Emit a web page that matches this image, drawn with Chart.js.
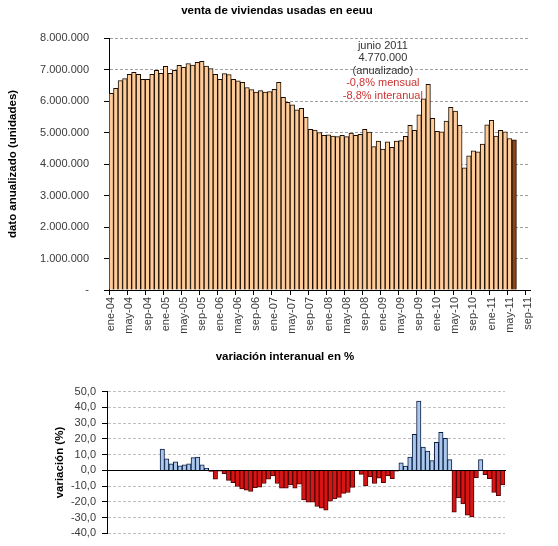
<!DOCTYPE html>
<html>
<head>
<meta charset="utf-8">
<script src="https://cdn.jsdelivr.net/npm/chart.js@4.4.0/dist/chart.umd.min.js"></script>
<style>
body{margin:0;background:#fff;}
#arriba{position:absolute;left:0;top:0;width:558px;height:345px;}
#abajo{position:absolute;left:0;top:346px;width:558px;height:200px;}
</style>
</head>
<body>
<div id="arriba"><canvas id="ventas"></canvas></div>
<div id="abajo"><canvas id="variacion"></canvas></div>
<script>
const MESES = ['ene','feb','mar','abr','may','jun','jul','ago','sep','oct','nov','dic'];
const ANIOS = ['04','05','06','07','08','09','10','11'];

// eje de fechas ene-04 ... sep-11 (el dato llega a jun-11)
var CATEGORIAS = [];
ANIOS.forEach(function(a){
    MESES.forEach(function(m){ CATEGORIAS.push(m + '-' + a); });
});
const EJE_VENTAS = CATEGORIAS.slice(0, 93);
const EJE_VARIACION = CATEGORIAS.slice(0, 90);

// ventas anualizadas (unidades), ene-04 a jun-11
const VENTAS = [
    6240000, 6400000, 6650000, 6710000, 6850000, 6910000, 6850000, 6690000, 6690000, 6850000, 6970000, 6880000,
    7100000, 6880000, 6970000, 7130000, 7070000, 7190000, 7140000, 7230000, 7260000, 7110000, 7030000, 6850000,
    6690000, 6870000, 6840000, 6690000, 6640000, 6590000, 6430000, 6360000, 6280000, 6330000, 6280000, 6300000,
    6370000, 6590000, 6120000, 5960000, 5880000, 5720000, 5770000, 5480000, 5100000, 5080000, 5000000, 4910000,
    4930000, 4890000, 4870000, 4910000, 4870000, 4980000, 4910000, 4940000, 5100000, 5010000, 4550000, 4730000,
    4470000, 4700000, 4530000, 4730000, 4740000, 4880000, 5230000, 5070000, 5560000, 6070000, 6530000, 5450000,
    5040000, 5020000, 5360000, 5800000, 5680000, 5230000, 3880000, 4260000, 4420000, 4390000, 4630000, 5240000,
    5390000, 4890000, 5070000, 5020000, 4810000, 4770000
];

// variacion interanual en %, desde ene-05
const INTERANUAL = [
    null, null, null, null, null, null, null, null, null, null, null, null,
    13.5, 7.3, 4.2, 5.4, 2.9, 3.5, 4.2, 8.1, 8.5, 3.5, 1.3, -0.6,
    -5.6, -0.4, -2.1, -6.3, -7.7, -10.2, -11.7, -12.5, -13.3, -11.0, -10.6, -8.3,
    -5.6, -3.5, -8.3, -11.3, -11.3, -9.2, -11.3, -8.8, -18.8, -20.2, -20.2, -22.9,
    -24.0, -25.2, -19.6, -18.1, -17.1, -14.6, -14.0, -10.8, 0.0, -2.5, -9.8, -4.0,
    -8.3, -5.0, -7.7, -3.5, -5.2, -0.4, 4.8, 2.7, 8.5, 22.9, 44.0, 14.8,
    12.3, 6.3, 17.9, 24.2, 20.4, 6.9, -26.5, -17.5, -21.3, -28.5, -29.6, -4.6,
    6.9, -2.7, -5.2, -14.0, -16.0, -9.2
];

const NOTA = ['junio 2011', '4.770.000', '(anualizado)', '-0,8% mensual', '-8,8% interanual'];
const NOTA_COLOR = ['#333333', '#333333', '#333333', '#cc3333', '#cc3333'];

const FUENTE = '"Liberation Sans", Arial, sans-serif';
Chart.defaults.font.family = FUENTE;
Chart.defaults.font.size = 11;
Chart.defaults.color = '#3a3a3a';

function puntos(v) {
    return String(v).replace(/\B(?=(\d{3})+(?!\d))/g, '.');
}

var coloresVentas = VENTAS.map(function(v, i){ return i === VENTAS.length - 1 ? '#8a4416' : '#ffcc99'; });

var ventasChart = new Chart(document.getElementById('ventas'), {
    type: 'bar',
    data: {
        labels: EJE_VENTAS,
        datasets: [{
            data: VENTAS,
            backgroundColor: coloresVentas,
            borderColor: '#1a0d00',
            borderWidth: 1,
            barPercentage: 1,
            categoryPercentage: 1
        }]
    },
    options: {
        responsive: true,
        maintainAspectRatio: false,
        animation: false,
        layout: { padding: { left: 0, right: 28, top: 38, bottom: 0 } },
        plugins: { legend: { display: false }, tooltip: { enabled: false } },
        scales: {
            x: {
                grid: {
                    offset: true,
                    drawOnChartArea: false,
                    tickLength: 5,
                    tickColor: function(c){ return c.index % 4 === 0 ? '#000' : 'rgba(0,0,0,0)'; }
                },
                border: { color: '#000' },
                ticks: {
                    autoSkip: false,
                    maxRotation: 90,
                    minRotation: 90,
                    padding: 2,
                    callback: function(v, i){ return i % 4 === 0 ? this.getLabelForValue(v) : ''; }
                },
                afterFit: function(s){ s.height = 55; }
            },
            y: {
                min: 0,
                max: 8000000,
                ticks: {
                    stepSize: 1000000,
                    autoSkip: false,
                    padding: 15,
                    callback: function(v){ return v === 0 ? '-' : puntos(v); }
                },
                grid: { color: '#a0a0a0', tickLength: 5, tickColor: '#000' },
                border: { color: '#000', dash: [3, 2] },
                title: {
                    display: true,
                    text: 'dato anualizado (unidades)',
                    color: '#000',
                    font: { size: 11.5, weight: 'bold' },
                    padding: { top: 6.4, bottom: 0 }
                },
                afterFit: function(s){ s.width = 109; }
            }
        }
    },
    plugins: [{
        id: 'textosVentas',
        afterDraw: function(chart) {
            var ctx = chart.ctx;
            ctx.save();
            ctx.textAlign = 'center';
            ctx.textBaseline = 'middle';
            ctx.fillStyle = '#000';
            ctx.font = 'bold 11.5px ' + FUENTE;
            ctx.fillText('venta de viviendas usadas en eeuu', 277, 11);
            // nota del ultimo dato
            var x = chart.scales.x.getPixelForValue(60);
            var y = chart.scales.y.getPixelForValue(7750000);
            ctx.font = '11px ' + FUENTE;
            for (var i = 0; i < NOTA.length; i++) {
                ctx.fillStyle = NOTA_COLOR[i];
                ctx.fillText(NOTA[i], x, y + i * 12.4);
            }
            ctx.restore();
        }
    }]
});

var colorFondo = INTERANUAL.map(function(v){ return v >= 0 ? '#a9c8ec' : '#d81414'; });
var colorBorde = INTERANUAL.map(function(v){ return v >= 0 ? '#0a1a40' : '#500000'; });

var variacionChart = new Chart(document.getElementById('variacion'), {
    type: 'bar',
    data: {
        labels: EJE_VARIACION,
        datasets: [{
            data: INTERANUAL,
            backgroundColor: colorFondo,
            borderColor: colorBorde,
            borderWidth: 1,
            barPercentage: 1,
            categoryPercentage: 1
        }]
    },
    options: {
        responsive: true,
        maintainAspectRatio: false,
        animation: false,
        layout: { padding: { left: 0, right: 53, top: 45.7, bottom: 10 } },
        plugins: { legend: { display: false }, tooltip: { enabled: false } },
        scales: {
            x: {
                position: { y: 0 },
                ticks: { display: false },
                grid: { display: false },
                border: { color: '#000' }
            },
            y: {
                min: -40,
                max: 50,
                ticks: {
                    stepSize: 10,
                    autoSkip: false,
                    padding: 6,
                    callback: function(v){ return v.toFixed(1).replace('.', ','); }
                },
                grid: { color: '#c0c0c0', tickLength: 5, tickColor: '#000' },
                border: { color: '#000', dash: [3, 2] },
                title: {
                    display: true,
                    text: 'variación (%)',
                    color: '#000',
                    font: { size: 11.5, weight: 'bold' },
                    padding: { top: 53, bottom: 0 }
                },
                afterFit: function(s){ s.width = 107; }
            }
        }
    },
    plugins: [{
        id: 'textosVariacion',
        afterDraw: function(chart) {
            var ctx = chart.ctx;
            ctx.save();
            ctx.textAlign = 'center';
            ctx.textBaseline = 'middle';
            ctx.fillStyle = '#000';
            ctx.font = 'bold 11.5px ' + FUENTE;
            ctx.fillText('variación interanual en %', 285, 11);
            ctx.restore();
        }
    }]
});
</script>
</body>
</html>
